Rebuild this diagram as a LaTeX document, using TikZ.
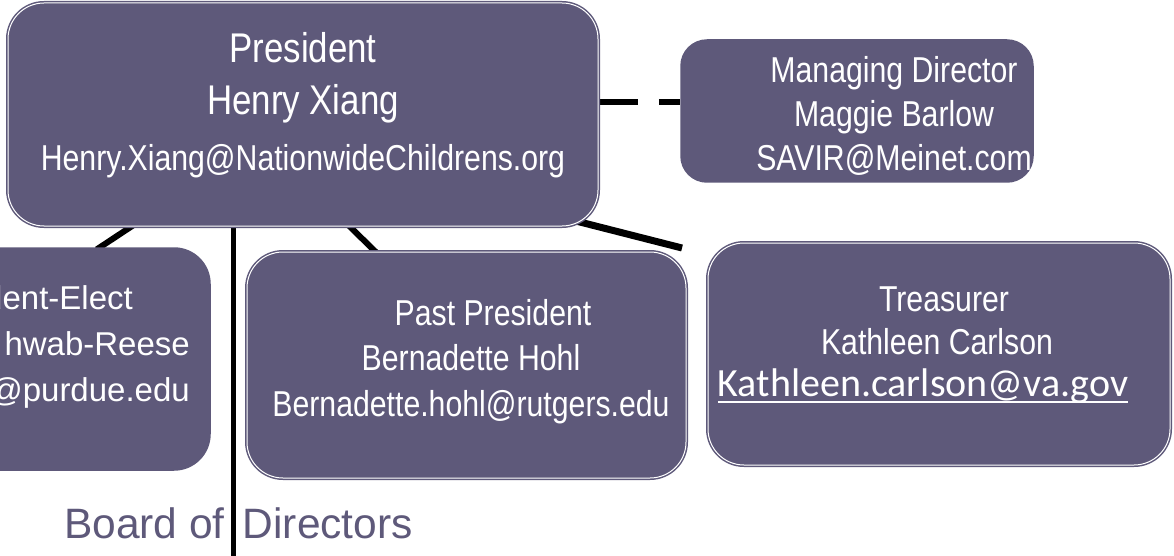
\documentclass[tikz,border=0pt]{standalone}
\usepackage{fontspec}
\setmainfont{Liberation Sans}
\newfontfamily\narrowfont[FakeStretch=0.84]{Liberation Sans}
\newfontfamily\calfont{Carlito}
\usetikzlibrary{positioning, backgrounds}
\definecolor{boxpurple}{RGB}{94,89,122}

% underlined e-mail link
\newcommand{\maillink}[1]{\setbox0\hbox{#1}\rlap{\rule[-7pt]{\wd0}{2.5pt}}\box0}

\tikzset{
  rolebox/.style = {rectangle, rounded corners = 36pt, fill = boxpurple, draw = boxpurple, line width = 1.5pt, inner sep = 0pt},
  framedbox/.style = {rolebox, double = white, double distance = 1pt},
  roletext/.style = {text = white, align = center, inner sep = 0pt},
  link/.style = {line width = 6pt, shorten < = -4pt, shorten > = -4pt},
}

\begin{document}
\begin{tikzpicture}[x = 1pt, y = -1pt]
    \useasboundingbox (0, 0) rectangle (1174, 556);
    \clip (0, 0) rectangle (1174, 556);

    % boxes
    \node [framedbox, minimum width = 590pt, minimum height = 223pt] (pres) at (303, 114.5) {};
    \node [rolebox, rounded corners = 26pt, minimum width = 352pt, minimum height = 142pt] (md) at (857, 111) {};
    \node [rolebox, minimum width = 350pt, minimum height = 222pt] (pe) at (35, 359) {};
    \node [framedbox, minimum width = 439pt, minimum height = 226pt] (pp) at (466.5, 365) {};
    \node [framedbox, minimum width = 462pt, minimum height = 222pt] (tr) at (939, 354) {};

    % texts
    \node [roletext, font = \narrowfont\fontsize{41.5}{52}\selectfont] (presText) at (303, 105)
        {President\\ Henry Xiang\\[4pt] {\fontsize{36}{52}\selectfont Henry.Xiang@NationwideChildrens.org}};
    \node [roletext, font = \narrowfont\fontsize{36}{44}\selectfont] (mdText) at (894, 115.5)
        {Managing Director\\ Maggie Barlow\\ SAVIR@Meinet.com};
    \node [roletext, align = right, anchor = east, font = \fontsize{33}{46}\selectfont] (peText) at (190, 347)
        {dent-Elect\hspace*{57pt}\\ hwab-Reese\hspace*{6pt}\\ @purdue.edu};
    \node [roletext, font = \narrowfont\fontsize{36}{45.5}\selectfont] (ppText) at (471, 361.5)
        {\hspace*{44pt}Past President\\ Bernadette Hohl\hspace*{12pt}\\ Bernadette.hohl@rutgers.edu};
    \node [roletext, font = \narrowfont\fontsize{36}{43}\selectfont] (trText) at (923, 345)
        {\hspace*{42pt}Treasurer\\ \hspace*{28pt}Kathleen Carlson\\[-1pt] {\calfont\fontsize{40}{43}\selectfont\maillink{Kathleen.carlson@va.gov}}};

    \node [anchor = base west, inner sep = 0pt, text = boxpurple, font = \fontsize{42.5}{42}\selectfont] (bod) at (64, 538)
        {Board of\hspace{18pt}Directors};

    \coordinate (bodEnd) at (233, 556);
    \coordinate (trEnd) at (682, 248);

    % connectors
    \begin{scope}[on background layer]
        \draw [line width = 6.5pt, dash pattern = on 39pt off 21pt] ([yshift = 12.5pt]pres.east) -- ([yshift = 9pt]md.west);
        \draw [link] (131, 0 |- pres.south) -- (100, 0 |- pe.north);
        \draw [line width = 5pt] (233, 0 |- pres.south) -- (bodEnd);
        \draw [link] (350, 0 |- pres.south) -- (375, 0 |- pp.north);
        \draw [line width = 7pt, shorten < = -4pt] (572, 220) -- (trEnd);
    \end{scope}
\end{tikzpicture}
\end{document}
